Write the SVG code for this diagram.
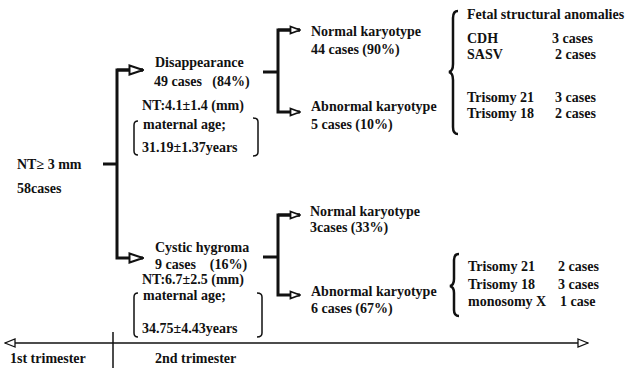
<svg xmlns="http://www.w3.org/2000/svg" width="630" height="368" viewBox="0 0 630 368">
<style>
text{font-family:"Liberation Serif","Times New Roman",serif;font-size:14px;font-weight:bold;fill:#111}
.thick{fill:none;stroke:#111;stroke-width:3}
.br{fill:none;stroke:#111;stroke-width:1.5}
.cb{fill:none;stroke:#111;stroke-width:2.5}
.tl{fill:none;stroke:#111;stroke-width:1.5}
</style>
<defs>
<marker id="ah" markerUnits="userSpaceOnUse" viewBox="0 0 16 12" refX="15" refY="6" markerWidth="16" markerHeight="12" orient="auto">
<path d="M1.5,1.5 L15,6 L1.5,10.5 Z" fill="#fff" stroke="#111" stroke-width="2"/>
</marker>
<marker id="ahs" markerUnits="userSpaceOnUse" viewBox="0 0 12 10" refX="11" refY="5" markerWidth="12" markerHeight="10" orient="auto">
<path d="M1.5,1.5 L11,5 L1.5,8.5 Z" fill="#fff" stroke="#111" stroke-width="1.8"/>
</marker>
<marker id="ta" markerUnits="userSpaceOnUse" viewBox="0 0 12 10" refX="11" refY="5" markerWidth="12" markerHeight="10" orient="auto-start-reverse">
<path d="M1,1 L11,5 L1,9 Z" fill="#fff" stroke="#111" stroke-width="1.3"/>
</marker>
</defs>
<g id="connectors">
<path class="thick" d="M103,164 H117"/>
<path class="thick" d="M143,70 H117 V258 H143" marker-end="url(#ah)"/>
<path class="thick" d="M117,70 H143" marker-end="url(#ah)"/>
<path class="thick" d="M263,72 H278"/>
<path class="thick" d="M300,30 H278 V112 H300" marker-end="url(#ahs)"/>
<path class="thick" d="M278,30 H300" marker-end="url(#ahs)"/>
<path class="thick" d="M263,257 H278"/>
<path class="thick" d="M300,215 H278 V295 H300" marker-end="url(#ahs)"/>
<path class="thick" d="M278,215 H300" marker-end="url(#ahs)"/>
</g>
<g id="root">
<text x="17" y="169">NT≥ 3 mm</text>
<text x="17" y="193">58cases</text>
</g>
<g id="disappearance">
<text x="155" y="67">Disappearance</text>
<text x="154" y="86" xml:space="preserve">49 cases   (84%)</text>
<text x="142" y="110">NT:4.1±1.4 (mm)</text>
<text x="143" y="129">maternal age;</text>
<text x="142" y="152">31.19±1.37years</text>
<path class="br" d="M138,121 Q134,121 134,125 V151 Q134,155 138,155"/>
<path class="br" d="M253,118 Q258,118 258,122 V152 Q258,156 253,156"/>
</g>
<g id="cystic">
<text x="155" y="252">Cystic hygroma</text>
<text x="155" y="269" xml:space="preserve">9 cases    (16%)</text>
<text x="142" y="284">NT:6.7±2.5 (mm)</text>
<text x="143" y="300">maternal age;</text>
<text x="142" y="333">34.75±4.43years</text>
<path class="br" d="M138,293 Q134,293 134,297 V333 Q134,337 138,337"/>
<path class="br" d="M257,293 Q262,293 262,297 V333 Q262,337 257,337"/>
</g>
<g id="normal1">
<text x="311" y="36">Normal karyotype</text>
<text x="311" y="54">44 cases (90%)</text>
</g>
<g id="abnormal1">
<text x="311" y="111">Abnormal karyotype</text>
<text x="311" y="129">5 cases (10%)</text>
</g>
<g id="normal2">
<text x="310" y="216">Normal karyotype</text>
<text x="310" y="232">3cases (33%)</text>
</g>
<g id="abnormal2">
<text x="311" y="296">Abnormal karyotype</text>
<text x="311" y="313">6 cases (67%)</text>
</g>
<g id="findings1">
<path class="cb" d="M458,11 Q453,11 453,18 V64 Q453,71 449,72 Q453,73 453,80 V127 Q453,134 458,134"/>
<text x="467" y="19">Fetal structural anomalies</text>
<text x="467" y="43">CDH</text>
<text x="552" y="43">3 cases</text>
<text x="467" y="59">SASV</text>
<text x="555" y="59">2 cases</text>
<text x="467" y="102">Trisomy 21</text>
<text x="555" y="102">3 cases</text>
<text x="467" y="118">Trisomy 18</text>
<text x="555" y="118">2 cases</text>
</g>
<g id="findings2">
<path class="cb" d="M459,254 Q454,254 454,260 V279 Q454,285 450,286 Q454,287 454,293 V310 Q454,316 459,316"/>
<text x="468" y="271">Trisomy 21</text>
<text x="558" y="271">2 cases</text>
<text x="468" y="289">Trisomy 18</text>
<text x="558" y="289">3 cases</text>
<text x="468" y="306">monosomy X</text>
<text x="560" y="306">1 case</text>
</g>
<g id="timeline">
<path class="tl" d="M5,343 H588" marker-start="url(#ta)" marker-end="url(#ta)"/>
<path class="tl" d="M113,332 V368"/>
<text x="10" y="363">1st trimester</text>
<text x="155" y="363">2nd trimester</text>
</g>
</svg>
